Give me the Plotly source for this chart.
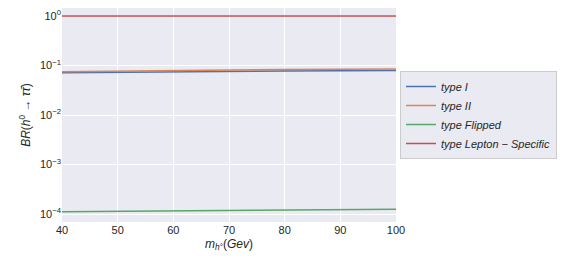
import plotly.graph_objects as go

mass = [40, 50, 60, 70, 80, 90, 100]
br_type1 = [0.0715, 0.0735, 0.0752, 0.0765, 0.0775, 0.0783, 0.0790]
br_type2 = [0.0750, 0.0775, 0.0795, 0.0812, 0.0826, 0.0838, 0.0848]
br_flipped = [0.000112, 0.000114, 0.000117, 0.000119, 0.000121, 0.000123, 0.000125]
br_lepton = [1.0, 1.0, 1.0, 1.0, 1.0, 1.0, 1.0]

names = ["<i>type I</i>", "<i>type II</i>", "<i>type Flipped</i>", "<i>type Lepton − Specific</i>"]
colors = ["#4c72b0", "#dd8452", "#55a868", "#c44e52"]
series = [br_type1, br_type2, br_flipped, br_lepton]

ytick_vals = [1e-4, 1e-3, 1e-2, 1e-1, 1]
ytick_text = ["10<sup>−4</sup>", "10<sup>−3</sup>", "10<sup>−2</sup>", "10<sup>−1</sup>", "10<sup>0</sup>"]
xtick_vals = [40, 50, 60, 70, 80, 90, 100]

fig = go.Figure()
for n, c, s in zip(names, colors, series):
    fig.add_trace(go.Scatter(x=mass, y=s, mode="lines", name=n, line=dict(color=c, width=1.5)))

fig.update_layout(
    width=570, height=271,
    margin=dict(l=62, r=174, t=8, b=49),
    paper_bgcolor="white", plot_bgcolor="#eaeaf2",
    font=dict(family="Liberation Sans", size=11, color="#262626"),
    showlegend=True,
    legend=dict(x=1.012, y=0.5, xanchor="left", yanchor="middle",
                bgcolor="#eaeaf2", bordercolor="#cccccc", borderwidth=1,
                font=dict(size=11), tracegroupgap=0, itemwidth=30),
)
fig.update_xaxes(range=[40, 100], tickvals=xtick_vals, showgrid=True, gridcolor="white", gridwidth=1,
                 zeroline=False, showline=False, ticks="", automargin=False,
                 title=dict(text="<i>m</i><sub><i>h</i>°</sub>(<i>Gev</i>)", font=dict(size=12), standoff=4))
fig.update_yaxes(type="log", range=[-4.16, 0.16], tickvals=ytick_vals, ticktext=ytick_text,
                 showgrid=True, gridcolor="white", gridwidth=1, zeroline=False, showline=False, ticks="",
                 automargin=False,
                 title=dict(text="<i>BR</i>(<i>h</i><sup>0</sup> → <i>τ</i><i>τ̄</i>)", font=dict(size=12), standoff=6))

fig.write_html("out.html", config={"displayModeBar": False},
               post_script="document.body.style.margin='0px';")
